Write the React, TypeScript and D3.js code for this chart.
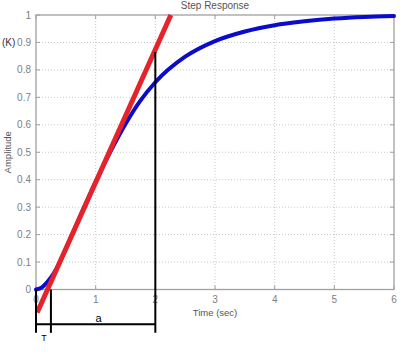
import React from "react";
import * as d3 from "d3";

const xTicks = [0, 1, 2, 3, 4, 5, 6];
const yTicks = [0, 0.1, 0.2, 0.3, 0.4, 0.5, 0.6, 0.7, 0.8, 0.9, 1];
const yTickLabels = ["0", "0.1", "0.2", "0.3", "0.4", "0.5", "0.6", "0.7", "0.8", "0.9", "1"];

const blueT = [0, 0.1, 0.2, 0.3, 0.4, 0.5, 0.75, 1, 1.25, 1.5, 1.75, 2, 2.5, 3, 3.5, 4, 4.5, 5, 5.5, 6];
const blueV = [0, 0.008, 0.03, 0.06, 0.1, 0.148, 0.272, 0.392, 0.503, 0.603, 0.688, 0.755, 0.848, 0.905, 0.94, 0.963, 0.977, 0.987, 0.993, 0.996];

const redT = [0.02, 2.26];
const redV = [-0.084, 1.0];

// annotation markers (time, top value)
const markT = [0, 0.25, 2];
const markTop = [0, 0, 0.865];
const markBottom = -0.158;
const bracketV = -0.127;

const W = 404, H = 357;
const x = d3.scaleLinear().domain([0, 6]).range([36, 394]);
const y = d3.scaleLinear().domain([0, 1]).range([289.5, 15]);

const font = "'Liberation Sans', Arial, sans-serif";
const gray = "#808080";

export default function App() {
  const blueData = blueT.map((t, i) => [t, blueV[i]] as [number, number]);
  const redData = redT.map((t, i) => [t, redV[i]] as [number, number]);
  const line = d3
    .line<[number, number]>()
    .x((d) => x(d[0]))
    .y((d) => y(d[1]))
    .curve(d3.curveMonotoneX);
  const straight = d3
    .line<[number, number]>()
    .x((d) => x(d[0]))
    .y((d) => y(d[1]));

  const [x0, x1] = x.range();
  const [yb, yt] = y.range();

  return (
    <div style={{ position: "fixed", left: 0, top: 0 }}>
      <svg width={W} height={H} style={{ display: "block", background: "#fff" }}>
        <rect x={0} y={0} width={W} height={H} fill="#fff" />
        {/* grid */}
        {xTicks.slice(1, -1).map((t) => (
          <line key={"gx" + t} x1={x(t)} x2={x(t)} y1={yt} y2={yb} stroke="#c8c8c8" strokeDasharray="1,2" />
        ))}
        {yTicks.slice(1, -1).map((t) => (
          <line key={"gy" + t} x1={x0} x2={x1} y1={y(t)} y2={y(t)} stroke="#c8c8c8" strokeDasharray="1,2" />
        ))}
        {/* box */}
        <rect x={x0} y={yt} width={x1 - x0} height={yb - yt} fill="none" stroke="#a0a0a0" strokeWidth={1.3} />
        {/* ticks */}
        {xTicks.map((t) => (
          <g key={"tx" + t}>
            <line x1={x(t)} x2={x(t)} y1={yb} y2={yb - 4} stroke="#a0a0a0" />
            <line x1={x(t)} x2={x(t)} y1={yt} y2={yt + 4} stroke="#a0a0a0" />
            <text x={x(t)} y={303} textAnchor="middle" fontSize={10} fill={gray} fontFamily={font}>
              {t}
            </text>
          </g>
        ))}
        {yTicks.map((t, i) => (
          <g key={"ty" + t}>
            <line x1={x0} x2={x0 + 4} y1={y(t)} y2={y(t)} stroke="#a0a0a0" />
            <line x1={x1} x2={x1 - 4} y1={y(t)} y2={y(t)} stroke="#a0a0a0" />
            <text x={31} y={y(t) + 3.5} textAnchor="end" fontSize={10} fill={gray} fontFamily={font}>
              {yTickLabels[i]}
            </text>
          </g>
        ))}
        <text x={2} y={y(0.9) + 3.5} fontSize={10} fill="#333" fontFamily={font}>
          (K)
        </text>
        <text x={(x0 + x1) / 2} y={9} textAnchor="middle" fontSize={10} fill="#555" fontFamily={font}>
          Step Response
        </text>
        <text x={(x0 + x1) / 2} y={316} textAnchor="middle" fontSize={9.5} fill="#555" fontFamily={font}>
          Time (sec)
        </text>
        <text
          transform={`translate(11, ${(yt + yb) / 2}) rotate(-90)`}
          textAnchor="middle"
          fontSize={9.5}
          fill="#555"
          fontFamily={font}
        >
          Amplitude
        </text>
        {/* curves */}
        <path d={line(blueData) || ""} fill="none" stroke="#0b0bcc" strokeWidth={4} strokeLinecap="round" />
        <path d={straight(redData) || ""} fill="none" stroke="#e5232b" strokeWidth={5} />
        {/* annotation */}
        {markT.map((t, i) => (
          <line key={"m" + i} x1={x(t)} x2={x(t)} y1={y(markTop[i])} y2={y(markBottom)} stroke="#000" strokeWidth={2} />
        ))}
        <line x1={x(markT[0])} x2={x(markT[2])} y1={y(bracketV)} y2={y(bracketV)} stroke="#000" strokeWidth={2} />
        <text x={98.5} y={322} textAnchor="middle" fontSize={11} fill="#000" fontFamily={font}>
          a
        </text>
        <text x={44} y={341} textAnchor="middle" fontSize={9} fill="#000" fontFamily={font}>
          T
        </text>
      </svg>
    </div>
  );
}
